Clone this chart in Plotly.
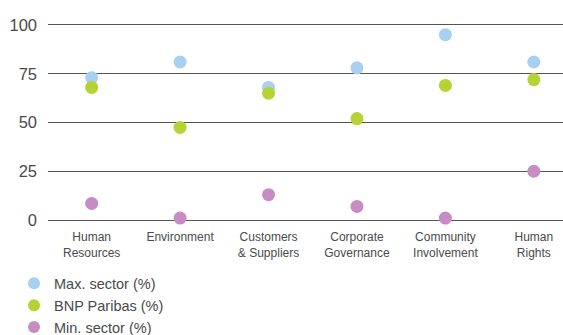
import plotly.graph_objects as go

categories = ["Human<br>Resources", "Environment", "Customers<br>& Suppliers",
              "Corporate<br>Governance", "Community<br>Involvement", "Human<br>Rights"]
max_sector = [73, 81, 68, 78, 95, 81]
bnp_paribas = [68, 47.5, 65, 52, 69, 72]
min_sector = [8.5, 1, 13, 7, 1, 25]
y_ticks = [0, 25, 50, 75, 100]

series = [
    ("Max. sector (%)", max_sector, "#a8d0f0"),
    ("BNP Paribas (%)", bnp_paribas, "#b5d334"),
    ("Min. sector (%)", min_sector, "#c78cc3"),
]

x_pos = list(range(len(categories)))
font_family = "Liberation Sans, Arial, Helvetica, sans-serif"
text_color = "#4a4a4a"

fig = go.Figure()
for name, values, color in series:
    fig.add_trace(go.Scatter(
        x=x_pos, y=values, name=name, mode="markers",
        marker=dict(size=13, color=color, line=dict(width=0)),
        cliponaxis=False,
    ))

fig.update_layout(
    width=563, height=335,
    margin=dict(l=48, r=0, t=23, b=113, autoexpand=False),
    paper_bgcolor="white", plot_bgcolor="white",
    font=dict(family=font_family, color=text_color),
    showlegend=True,
    legend=dict(
        x=-0.066, y=-0.228, xanchor="left", yanchor="top",
        font=dict(size=14.5, color=text_color),
        itemsizing="constant", bgcolor="rgba(0,0,0,0)",
        traceorder="normal", tracegroupgap=0,
    ),
    xaxis=dict(
        range=[-0.494, 5.33], tickvals=x_pos, ticktext=categories,
        showgrid=False, zeroline=False, showline=False,
        tickfont=dict(size=12, color=text_color),
        ticks="", ticklabelstandoff=6, automargin=False,
    ),
    yaxis=dict(
        range=[-1, 101], tickvals=y_ticks,
        showgrid=True, gridcolor="#555555", gridwidth=1.3,
        zeroline=False, showline=False,
        tickfont=dict(size=16.5, color=text_color),
        ticks="", ticklabelstandoff=10, automargin=False,
    ),
)

fig.write_html("out.html")
